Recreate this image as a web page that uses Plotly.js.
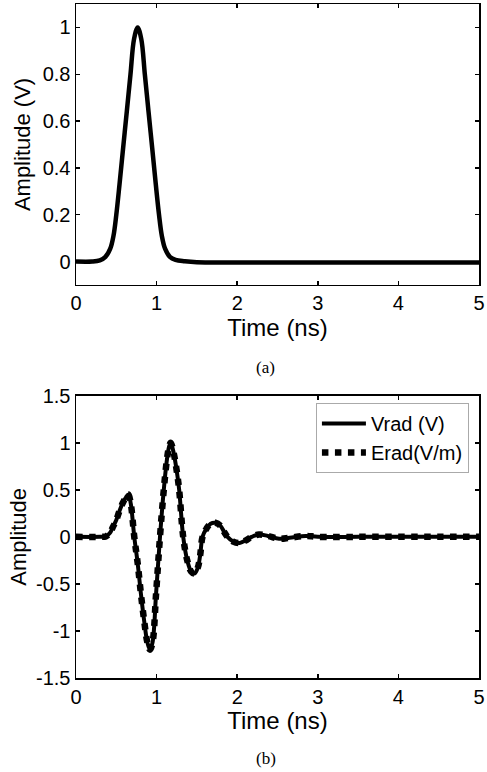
<!DOCTYPE html>
<html>
<head>
<meta charset="utf-8">
<script src="https://cdn.plot.ly/plotly-3.0.1.min.js"></script>
<style>html,body{margin:0;padding:0;background:#fff;}#chart{width:487px;height:772px;}</style>
</head>
<body>
<div id="chart"></div>
<script>
// (a) input pulse
const timeA = [0, 0.2, 0.295, 0.365, 0.425, 0.465, 0.5, 0.54, 0.585, 0.63, 0.676, 0.72, 0.765, 0.81, 0.854, 0.9, 0.945, 0.99, 1.03, 1.065, 1.105, 1.165, 1.235, 1.35, 1.5, 2, 3, 4, 5];
const pulseA = [0, 0, 0.005, 0.02, 0.055, 0.11, 0.2, 0.33, 0.486, 0.64, 0.8, 0.95, 1.0, 0.95, 0.8, 0.64, 0.486, 0.33, 0.2, 0.11, 0.055, 0.02, 0.007, 0.001, -0.003, -0.004, -0.004, -0.004, -0.004];

// (b) radiated waveforms
const timeB = [0, 0.3, 0.37, 0.42, 0.455, 0.5, 0.537, 0.58, 0.62, 0.65, 0.68, 0.723, 0.765, 0.806, 0.85, 0.885, 0.918, 0.95, 0.993, 1.042, 1.084, 1.125, 1.155, 1.175, 1.21, 1.25, 1.28, 1.33, 1.38, 1.43, 1.468, 1.51, 1.54, 1.57, 1.62, 1.67, 1.73, 1.79, 1.84, 1.88, 1.95, 2.03, 2.1, 2.18, 2.27, 2.38, 2.52, 2.65, 2.85, 3.0, 3.5, 4, 4.5, 5];
const vrad = [0, 0, 0.005, 0.04, 0.1, 0.18, 0.27, 0.36, 0.42, 0.45, 0.35, 0, -0.28, -0.61, -0.92, -1.12, -1.2, -1.12, -0.61, 0, 0.45, 0.8, 0.96, 1.0, 0.9, 0.7, 0.5, 0, -0.25, -0.37, -0.39, -0.33, -0.2, 0, 0.09, 0.14, 0.15, 0.12, 0.05, 0, -0.05, -0.065, -0.04, 0, 0.025, 0.01, -0.02, -0.01, 0.01, 0, 0, 0, 0, 0];
const erad = [0, 0, 0.005, 0.04, 0.1, 0.18, 0.27, 0.36, 0.42, 0.45, 0.35, 0, -0.28, -0.61, -0.92, -1.12, -1.2, -1.12, -0.61, 0, 0.45, 0.8, 0.96, 1.0, 0.9, 0.7, 0.5, 0, -0.25, -0.37, -0.39, -0.33, -0.2, 0, 0.09, 0.14, 0.15, 0.12, 0.05, 0, -0.05, -0.065, -0.04, 0, 0.025, 0.01, -0.02, -0.01, 0.01, 0, 0, 0, 0, 0];

const xTicks = [0, 1, 2, 3, 4, 5];
const xTickText = ['0', '1', '2', '3', '4', '5'];
const yTicksA = [0, 0.2, 0.4, 0.6, 0.8, 1];
const yTickTextA = ['0', '0.2', '0.4', '0.6', '0.8', '1'];
const yTicksB = [-1.5, -1, -0.5, 0, 0.5, 1, 1.5];
const yTickTextB = ['-1.5', '-1', '-0.5', '0', '0.5', '1', '1.5'];
const seriesNames = ['Vrad (V)', 'Erad(V/m)'];
const xTitle = 'Time (ns)';
const yTitleA = 'Amplitude (V)';
const yTitleB = 'Amplitude';
const panelLabels = ['(a)', '(b)'];

const FONT = 'Liberation Sans, Arial, sans-serif';
const traces = [
  {x: timeA, y: pulseA, xaxis: 'x', yaxis: 'y', mode: 'lines', line: {color: '#000', width: 4.5, shape: 'spline', smoothing: 1}, showlegend: false},
  {x: timeB, y: vrad, xaxis: 'x2', yaxis: 'y2', mode: 'lines', name: seriesNames[0], line: {color: '#000', width: 4, shape: 'spline', smoothing: 1}},
  {x: timeB, y: erad, xaxis: 'x2', yaxis: 'y2', mode: 'lines', name: seriesNames[1], line: {color: '#000', width: 6.5, dash: 'dot', shape: 'spline', smoothing: 1}}
];

function xAxis(anchor) {
  return {anchor: anchor, range: [0, 5], tickvals: xTicks, ticktext: xTickText, ticks: 'inside', ticklen: 4, tickwidth: 1.5, tickcolor: '#000',
    showline: true, linecolor: '#000', linewidth: 1.5, mirror: 'ticks', showgrid: false, zeroline: false,
    tickfont: {family: FONT, size: 20, color: '#000'},
    title: {text: xTitle, font: {family: FONT, size: 24, color: '#000'}, standoff: 5}};
}
function yAxis(anchor, range, tv, tt, title, dom, standoff) {
  return {anchor: anchor, domain: dom, range: range, tickvals: tv, ticktext: tt, ticks: 'inside', ticklen: 4, tickwidth: 1.5, tickcolor: '#000',
    showline: true, linecolor: '#000', linewidth: 1.5, mirror: 'ticks', showgrid: false, zeroline: false,
    tickfont: {family: FONT, size: 20, color: '#000'},
    title: {text: title, font: {family: FONT, size: 22, color: '#000'}, standoff: standoff}};
}

const layout = {
  width: 487, height: 772,
  margin: {l: 76, r: 8, t: 4, b: 94},
  paper_bgcolor: '#fff', plot_bgcolor: '#fff',
  font: {family: FONT, color: '#000'},
  xaxis: xAxis('y'),
  yaxis: yAxis('x', [-0.1, 1.1], yTicksA, yTickTextA, yTitleA, [0.5831, 1], 6),
  xaxis2: xAxis('y2'),
  yaxis2: yAxis('x2', [-1.5, 1.5], yTicksB, yTickTextB, yTitleB, [0, 0.4188], 3),
  showlegend: true,
  legend: {x: 0.975, y: 0.408, xanchor: 'right', yanchor: 'top', bgcolor: '#fff', bordercolor: '#aaa', borderwidth: 1,
    itemwidth: 44, font: {family: FONT, size: 20, color: '#000'}, tracegroupgap: 0},
  annotations: [
    {text: panelLabels[0], xref: 'paper', yref: 'paper', x: 0.471, y: 0.461, xanchor: 'center', yanchor: 'middle', showarrow: false,
      font: {family: 'Liberation Serif, Times New Roman, serif', size: 17, color: '#000'}},
    {text: panelLabels[1], xref: 'paper', yref: 'paper', x: 0.471, y: -0.1187, xanchor: 'center', yanchor: 'middle', showarrow: false,
      font: {family: 'Liberation Serif, Times New Roman, serif', size: 17, color: '#000'}}
  ]
};

Plotly.newPlot('chart', traces, layout, {displayModeBar: false, staticPlot: true});
</script>
</body>
</html>
